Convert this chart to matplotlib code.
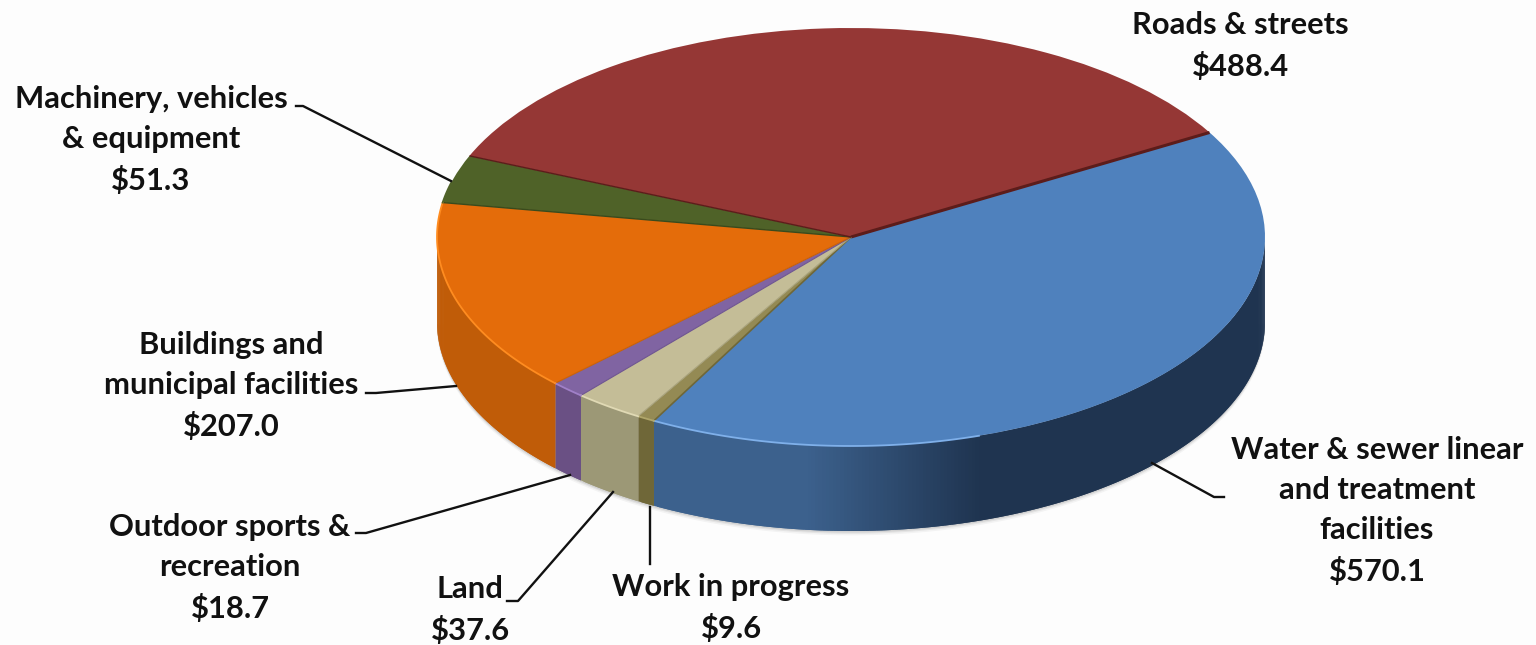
import numpy as np
import matplotlib
matplotlib.use('Agg')
import matplotlib.pyplot as plt
from matplotlib.colors import to_rgb

# capital assets, in order clockwise from the water slice
categories = ['Water & sewer linear\nand treatment\nfacilities', 'Work in progress', 'Land',
              'Outdoor sports &\nrecreation', 'Buildings and\nmunicipal facilities',
              'Machinery, vehicles\n& equipment', 'Roads & streets']
values = [570.1, 9.6, 37.6, 18.7, 207.0, 51.3, 488.4]
top_colors = ['#4f81bd', '#948a54', '#c4bd97', '#8064a2', '#e46c0a', '#4f6228', '#953735']
wall_left = ['#3c618d', '#6f6738', '#9c9876', '#6a5084', '#c05c08', '#3f4f20', '#7a2c2a']
wall_right = ['#1f3450', '#6f6738', '#9c9876', '#6a5084', '#c46008', '#3f4f20', '#7a2c2a']
rim_colors = ['#7fb0ea', '#b0a66a', '#e0d9b4', '#a080c8', '#ff8c20', '#4f6228', '#953735']
seam_colors = ['#5c1c1a', '#6f6738', '#a8a27c', '#6f5690', '#c86008', '#3a4a1c', '#5c1c1a']
seam_widths = [2.2, 1.2, 0.8, 0.8, 0.8, 1.0, 1.0]

W, H = 1536, 645
CX, CY, RX, RY = 851, 237, 414, 209
DEPTH = 85 / RY
START = 30


def px(x, y):
    # picture pixels to pie data units
    return (x - CX) / RX, (CY - y) / RY


fig = plt.figure(figsize=(W / 100, H / 100), dpi=100, facecolor='#fdfdfd')
ax = fig.add_axes([0, 0, 1, 1])

shares = np.array(values) / sum(values) * 360
ends = START - np.cumsum(shares)
starts = ends + shares

# soft shadow under the disc
t = np.radians(np.linspace(180, 360, 200))
for grow, alpha in [(0.014, 0.04), (0.009, 0.06), (0.005, 0.08)]:
    ax.fill(np.cos(t), np.sin(t) - DEPTH - grow * 1.5, color='k', alpha=alpha, lw=0, zorder=0)

# side wall, split in thin strips so the shading can change along it
for a, b, c1, c2 in zip(starts, ends, wall_left, wall_right):
    lo, hi = max(b, -180), min(a, 0)
    if lo >= hi:
        continue
    steps = np.linspace(hi, lo, max(int((hi - lo) * 2) + 2, 2))
    for i in range(len(steps) - 1):
        th = np.radians(steps[max(i - 1, 0):i + 2])
        xs = np.cos(th)
        ys = np.sin(th)
        # light stays on the left part of the wall, dark from the middle on
        f = np.clip((xs[-1] + 0.12) / 0.42, 0, 1)
        col = f * np.array(to_rgb(c2)) + (1 - f) * np.array(to_rgb(c1))
        ax.fill(np.r_[xs, xs[::-1]], np.r_[ys, ys[::-1] - DEPTH], color=col, lw=0, zorder=1)

wedges, _ = ax.pie(values, colors=top_colors, startangle=START, counterclock=False, radius=1, center=(0, 0),
                   wedgeprops={'linewidth': 0}, frame=False)
for w in wedges:
    w.set_zorder(2)

# dark seams along the radii and a lit rim on the front
for a, col, lw in zip(starts, seam_colors, seam_widths):
    th = np.radians(a)
    ax.plot([0, np.cos(th)], [0, np.sin(th)], color=col, lw=lw, zorder=3, solid_capstyle='butt')
for a, b, col in zip(starts, ends, rim_colors):
    lo, hi = max(b, -195), min(a, -72)
    if lo < hi:
        th = np.radians(np.linspace(lo, hi, 60))
        ax.plot(np.cos(th), np.sin(th), color=col, lw=1.3, zorder=3)

# leader lines
leaders = [
    [(296, 106), (303, 106), (451, 181)],
    [(366, 393), (376, 393), (456, 386)],
    [(356, 533), (366, 533), (570, 475)],
    [(507, 601), (518, 601), (613, 492)],
    [(650, 507), (650, 564)],
    [(1152, 463), (1214, 497), (1224, 497)],
]
for pts in leaders:
    xy = np.array([px(*p) for p in pts])
    ax.plot(xy[:, 0], xy[:, 1], color='#111111', lw=1.7, zorder=4)

# data labels, one slice at a time
label_pos = [(1377, 511), (731, 608), (470, 610), (230, 568), (231, 386), (151, 140), (1240, 46)]
for name, val, pos in zip(categories, values, label_pos):
    x, y = px(*pos)
    ax.text(x, y, '%s\n$%.1f' % (name, val), ha='center', va='center', fontsize=22.2, family='Lato',
            weight='bold', color='#111111', linespacing=1.53, zorder=5, clip_on=False)

ax.set_aspect('auto')
x0, y0 = px(0, H)
x1, y1 = px(W, 0)
ax.set_xlim(x0, x1)
ax.set_ylim(y0, y1)
ax.axis('off')
fig.savefig('out.png', dpi=100, facecolor=fig.get_facecolor())
